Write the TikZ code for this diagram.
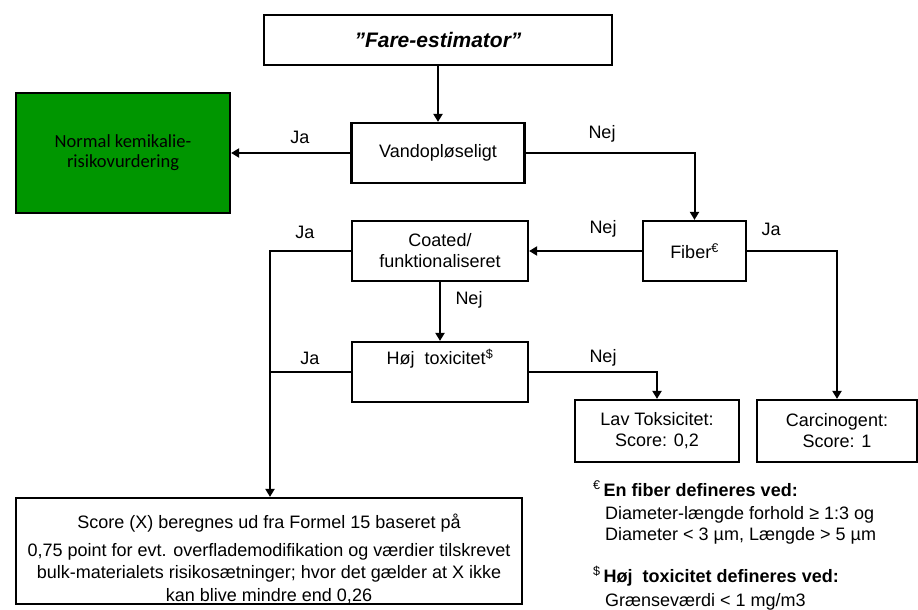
\documentclass[tikz,border=0pt]{standalone}
\usepackage{fontspec}
\setmainfont{Liberation Sans}
\newfontfamily\calibri{Carlito}
\usetikzlibrary{arrows.meta}
\definecolor{boxgreen}{RGB}{0,150,0}
\begin{document}
\begin{tikzpicture}[x=1pt,y=-1pt,
  box/.style={draw, line width=2.2pt, align=center, inner sep=0pt, font=\fontsize{18}{21}\selectfont},
  txt/.style={font=\fontsize{18}{21}\selectfont, inner sep=0pt, align=center},
  lbl/.style={font=\fontsize{18}{21}\selectfont, inner sep=0pt},
  conn/.style={line width=2pt, -{Triangle[length=8pt,width=9pt]}},
  plainline/.style={line width=2pt},
  fn/.style={font=\fontsize{18}{21}\selectfont, inner sep=0pt, anchor=base west}]
\useasboundingbox (0,0) rectangle (918,610);
% boxes
\node[box, minimum width=348, minimum height=50, font=\fontsize{21}{24}\selectfont\bfseries\itshape] (title) at (438,40) {”Fare-estimator”};
\node[box, minimum width=173, minimum height=60] (vand) at (438,153) {Vandopløseligt};
\node[box, fill=boxgreen, minimum width=214, minimum height=120, font=\fontsize{18.5}{20}\selectfont\calibri] (green) at (123,153) {Normal kemikalie-\\risikovurdering};
\node[box, minimum width=103, minimum height=60] (fiber) at (694.5,251) {Fiber\textsuperscript{€}};
\node[box, minimum width=176, minimum height=60] (coated) at (440,251) {Coated/\\funktionaliseret};
\node[box, minimum width=176, minimum height=60] (hoj) at (440,372) {};
\node[txt] (hojtxt) at (440,359) {Høj\ \ toxicitet\textsuperscript{\$}};
\node[box, minimum width=164, minimum height=62] (lav) at (657,431) {Lav Toksicitet:\\Score: 0,2};
\node[box, minimum width=160, minimum height=62] (carc) at (837,431) {Carcinogent:\\Score: 1};
\node[box, minimum width=506, minimum height=106] (score) at (269,551) {};
\node[txt, font=\fontsize{18}{22.5}\selectfont] (scoretxt) at (269,559) {Score (X) beregnes ud fra Formel 15 baseret på\\[5pt]0,75 point for evt. overflademodifikation og værdier tilskrevet\\bulk-materialets risikosætninger; hvor det gælder at X ikke\\kan blive mindre end 0,26};
% connectors
\coordinate (jl) at (270,251);
\draw[conn] (title.south) -- (title.south |- vand.north);
\draw[conn] (vand.west) -- (green.east);
\draw[conn] (vand.east) -| (fiber.north);
\draw[conn] (fiber.west) -- (coated.east);
\draw[conn] (fiber.east) -| (carc.north);
\draw[conn] (coated.west) -- (coated.west -| jl) -- (jl |- score.north);
\draw[plainline] (hoj.west) -- (hoj.west -| jl);
\draw[conn] (coated.south) -- (hoj.north);
\draw[conn] (hoj.east) -| (lav.north);
% labels
\node[lbl] (l1) at (300,137) {Ja};
\node[lbl] (l2) at (602,134) {Nej};
\node[lbl] (l3) at (603,229) {Nej};
\node[lbl] (l4) at (771,229) {Ja};
\node[lbl] (l5) at (305,232) {Ja};
\node[lbl] (l6) at (469,300) {Nej};
\node[lbl] (l7) at (310,358) {Ja};
\node[lbl] (l8) at (603,358) {Nej};
% footnotes
\node[fn] (fn1) at (593,496) {\textsuperscript{€}\,\textbf{En fiber defineres ved:}};
\node[fn] (fn2) at (605,519) {Diameter-længde forhold ≥ 1:3 og};
\node[fn] (fn3) at (605,540) {Diameter < 3 µm, Længde > 5 µm};
\node[fn] (fn4) at (593,582) {\textsuperscript{\$}\,\textbf{Høj\ \ toxicitet defineres ved:}};
\node[fn] (fn5) at (605,606) {Grænseværdi < 1 mg/m3};
\end{tikzpicture}
\end{document}
